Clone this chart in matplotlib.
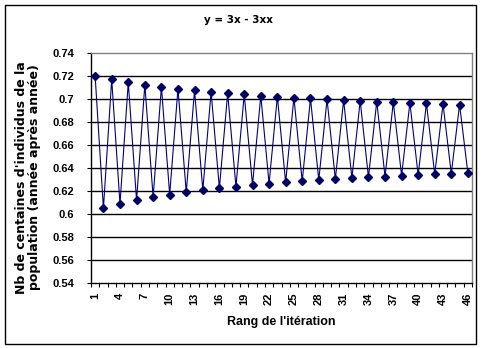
import matplotlib
matplotlib.use("Agg")
import matplotlib.pyplot as plt
from matplotlib.patches import Rectangle
from matplotlib.ticker import FixedLocator, FixedFormatter

iterations = list(range(1, 47))
population = [
    0.7200, 0.6048, 0.7171, 0.6087, 0.7146, 0.6119, 0.7125, 0.6146, 0.7106, 0.6169,
    0.7090, 0.6190, 0.7075, 0.6208, 0.7062, 0.6224, 0.7050, 0.6239, 0.7040, 0.6252,
    0.7030, 0.6264, 0.7021, 0.6275, 0.7012, 0.6285, 0.7005, 0.6295, 0.6997, 0.6303,
    0.6990, 0.6312, 0.6984, 0.6319, 0.6978, 0.6326, 0.6972, 0.6333, 0.6967, 0.6339,
    0.6962, 0.6345, 0.6957, 0.6351, 0.6952, 0.6356,
]
ytick_values = [0.54, 0.56, 0.58, 0.6, 0.62, 0.64, 0.66, 0.68, 0.7, 0.72, 0.74]
ytick_labels = ["0.54", "0.56", "0.58", "0.6", "0.62", "0.64", "0.66", "0.68", "0.7", "0.72", "0.74"]
xtick_values = list(range(1, 47, 3))
xtick_labels = [str(v) for v in xtick_values]

title = "y = 3x - 3xx"
xlabel = "Rang de l'itération"
ylabel_lines = ["Nb de centaines d'individus de la", "population (année après année)"]

W, H = 482, 348
fig = plt.figure(figsize=(W / 100, H / 100), dpi=100)
fig.patch.set_facecolor("white")

left, right, top, bottom = 91, 472, 53, 283
ax = fig.add_axes([left / W, 1 - bottom / H, (right - left) / W, (bottom - top) / H])

ax.plot(iterations, population, color="#000080", lw=0.8, marker="D",
        markersize=4.0, markerfacecolor="#000066", markeredgecolor="#000066", zorder=3)

ax.set_xlim(0.5, 46.5)
ax.set_ylim(0.54, 0.74)

for v in ytick_values[1:-1]:
    ax.axhline(v, color="black", lw=1.0, zorder=1)

ax.yaxis.set_major_locator(FixedLocator(ytick_values))
ax.yaxis.set_major_formatter(FixedFormatter(ytick_labels))
ax.tick_params(axis="y", direction="out", length=3, width=0.8, pad=9,
               labelsize=8, colors="black")

ax.xaxis.set_major_locator(FixedLocator(xtick_values))
ax.xaxis.set_major_formatter(FixedFormatter(xtick_labels))
ax.xaxis.set_minor_locator(FixedLocator([i + 0.5 for i in range(0, 47)]))
ax.tick_params(axis="x", which="major", length=0, pad=7, labelsize=8, labelrotation=90)
ax.tick_params(axis="x", which="minor", direction="out", length=3, width=0.8)

for lab in ax.get_xticklabels() + ax.get_yticklabels():
    lab.set_fontfamily("Liberation Sans")
    lab.set_fontweight("bold")

ax.spines["left"].set_color("black")
ax.spines["bottom"].set_color("black")
ax.spines["top"].set_color("#808080")
ax.spines["right"].set_color("#808080")
for s in ax.spines.values():
    s.set_linewidth(1.0)

fig.text(239 / W, 1 - 20 / H, title, ha="center", va="center",
         fontsize=7.5, fontweight="bold", family="DejaVu Sans")
fig.text(281 / W, 1 - 322 / H, xlabel, ha="center", va="center",
         fontsize=9, fontweight="bold", family="Liberation Sans")
fig.text(22 / W, 1 - 178 / H, ylabel_lines[0], ha="center", va="center", rotation=90,
         fontsize=9, fontweight="bold", family="DejaVu Sans")
fig.text(35 / W, 1 - 177 / H, ylabel_lines[1], ha="center", va="center", rotation=90,
         fontsize=9, fontweight="bold", family="DejaVu Sans")

fig.patches.append(Rectangle((5 / W, 1 - 344 / H), 471 / W, 339 / H,
                             transform=fig.transFigure, fill=False,
                             edgecolor="black", lw=1.0))

fig.savefig("out.png", dpi=100)
